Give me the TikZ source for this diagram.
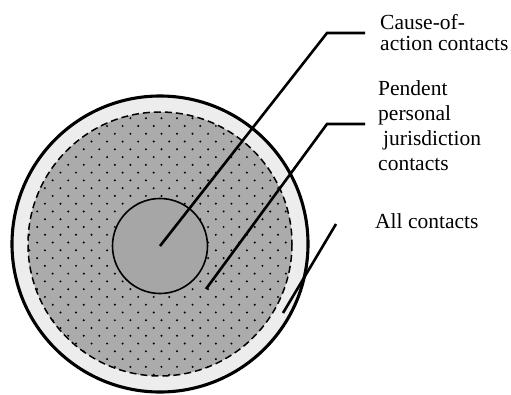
\documentclass[tikz,border=0pt]{standalone}
\usepackage{fontspec}
\setmainfont{Liberation Serif}
\begin{document}
\begin{tikzpicture}[x=1pt,y=-1pt,
  ringfill/.style={fill=black!7},
  discfill/.style={fill=black!33},
  outerline/.style={draw=black,line width=3.1pt},
  dashline/.style={draw=black,line width=1.5pt,dash pattern=on 7pt off 4pt},
  innerdisc/.style={circle,draw=black,line width=1.6pt,fill=black!35,minimum size=95pt,inner sep=0pt,outer sep=0pt},
  leader/.style={draw=black,line width=2.6pt},
  dotmark/.style={fill=black},
  lab/.style={anchor=base west,align=left,inner sep=0pt,font=\fontsize{21.5}{21}\selectfont}]
\useasboundingbox (0,0) rectangle (511,394);
\coordinate (O) at (160,244);
\fill[ringfill] (O) circle (148);
\fill[discfill] (O) circle (132);
\begin{scope}
  \clip (O) circle (132);
  \foreach \j in {0,...,36}{
    \foreach \i in {-2,...,16}{
      \fill[dotmark] ({52.7+15.54*\i+7.77*mod(\j+1,2)},{304.7+7.77*(\j-25)}) circle (1.1);
    }
  }
\end{scope}
\draw[dashline] (O) circle (132);
\draw[outerline] (O) circle (148);
\node[innerdisc] (inner) at (160,246) {};
% labels (anchor = baseline of the last line)
\node[lab] (lab1) at (380,50) {Cause-of-\\action contacts};
\node[lab,font=\fontsize{21.5}{25}\selectfont] (lab2) at (378,170) {Pendent\\personal\\\hspace*{5pt}jurisdiction\\contacts};
\node[lab] (lab3) at (375,228) {All contacts};
% leaders
\coordinate (k1) at (327,33);
\coordinate (t1) at (365,33);
\coordinate (s2) at (206,289);
\coordinate (k2) at (327,124);
\coordinate (t2) at (365,124);
\coordinate (s3) at (283,313);
\coordinate (t3) at (336,224);
\draw[leader] (inner.center) -- (k1) -- (t1);
\draw[leader] (s2) -- (k2) -- (t2);
\draw[leader] (s3) -- (t3);
\end{tikzpicture}
\end{document}
